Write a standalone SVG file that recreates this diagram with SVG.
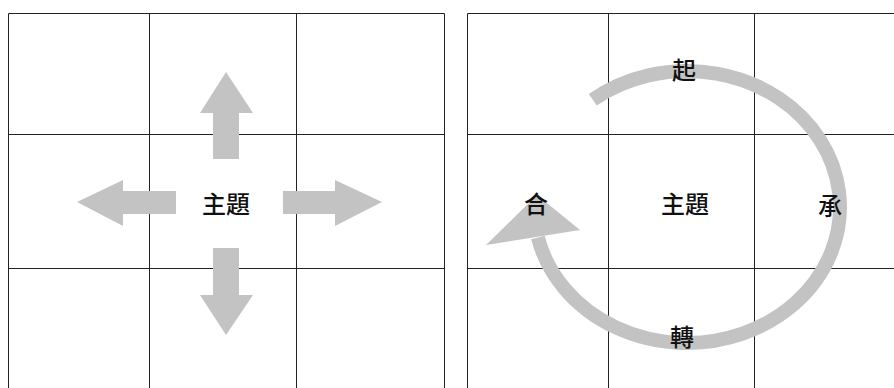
<svg xmlns="http://www.w3.org/2000/svg" width="894" height="388" viewBox="0 0 894 388">
<style>
.grid{stroke:#222;stroke-width:1;fill:none}
.gray{fill:#c3c3c3}
.band{fill:none;stroke:#c3c3c3;stroke-width:14}
.lbl{font-family:"Noto Sans CJK TC","Noto Sans CJK SC",sans-serif;font-size:24px;font-weight:500;fill:#111;text-anchor:middle;dominant-baseline:central}
</style>
<rect width="894" height="388" fill="#fff"/>
<g id="grid-left" class="grid">
<path d="M8.5,13.5H444.5M8.5,134.5H444.5M8.5,268.5H444.5M8.5,13.5V388M149.5,13.5V388M296.5,13.5V388M444.5,13.5V388"/>
</g>
<g id="grid-right" class="grid">
<path d="M467.5,13.5H894M467.5,134.5H894M467.5,268.5H894M467.5,13.5V388M608.5,13.5V388M754.5,13.5V388"/>
</g>
<g id="connectors">
<polygon id="arrow-up" class="gray" points="213,159 213,113 200,113 226,72 253,113 239,113 239,159"/>
<polygon id="arrow-down" class="gray" points="213,248 239,248 239,295 253,295 226,335 200,295 213,295"/>
<polygon id="arrow-left" class="gray" points="176,191 123,191 123,180 77,202 123,226 123,214 176,214"/>
<polygon id="arrow-right" class="gray" points="283,191 335,191 335,180 382,202 335,226 335,214 283,214"/>
<path id="cycle" class="band" d="M592.8,99.8 A153,136 0 1 1 537.9,237.6"/>
<polygon id="cycle-head" class="gray" points="486,245 580,230 537,195"/>
</g>
<g id="node-theme-left"><text class="lbl" x="226" y="202">主題</text></g>
<g id="node-theme-right"><text class="lbl" x="685" y="202">主題</text></g>
<g id="node-qi"><text class="lbl" x="684" y="68">起</text></g>
<g id="node-cheng"><text class="lbl" x="830" y="204">承</text></g>
<g id="node-zhuan"><text class="lbl" x="682" y="335">轉</text></g>
<g id="node-he"><text class="lbl" x="536" y="202">合</text></g>
</svg>
